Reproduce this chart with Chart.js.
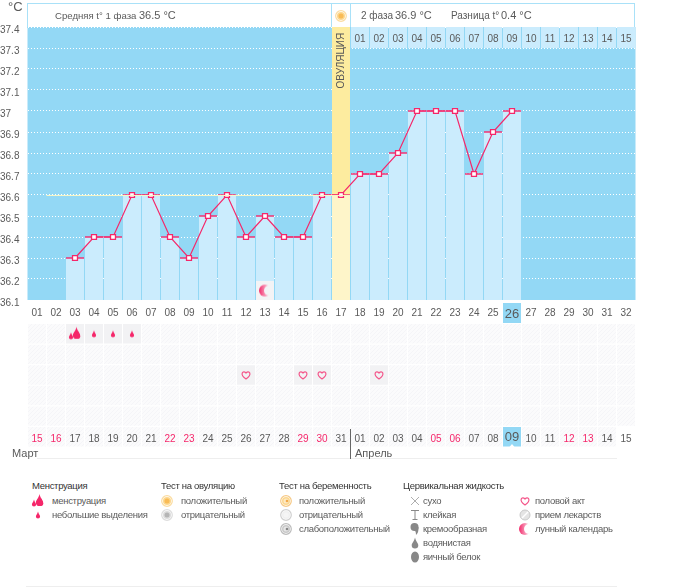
<!DOCTYPE html>
<html>
<head>
<meta charset="utf-8">
<style>
  html, body { margin: 0; padding: 0; background: #fff; }
  #page { position: relative; width: 673px; height: 587px; overflow: hidden; font-family: "Liberation Sans", sans-serif; font-size: 10px; color: #5a5a5a; }
  #page canvas { position: absolute; }
  .txt { position: absolute; white-space: nowrap; line-height: 14px; }
  .box { position: absolute; box-sizing: border-box; }
  .leg { font-size: 9.5px; letter-spacing: -0.3px; }
</style>
<script src="https://cdn.jsdelivr.net/npm/chart.js@4"></script>
</head>
<body>
<div id="page">
  <div class="box" style="left:27px;top:3px;width:608px;height:25px;border:1px solid #a9e1f8;border-bottom:0"></div>
  <div class="box" style="left:331px;top:3px;width:20px;height:25px;border-left:1px solid #a9e1f8;border-right:1px solid #a9e1f8"></div>
  <canvas id="tempChart" width="673" height="323" style="left:0;top:0"></canvas>
  <canvas id="marksChart" width="673" height="130" style="left:0;top:320px"></canvas>
  <div class="box" style="left:37px;top:458px;width:580px;height:1px;background:#eee"></div>
  <div class="box" style="left:350px;top:429px;width:1px;height:30px;background:#666"></div>
  <div class="box" style="left:26px;top:586px;width:591px;height:1px;background:#eee"></div>
</div>
<script>
const dayLabels = ['01','02','03','04','05','06','07','08','09','10','11','12','13','14','15','16','17','18','19','20','21','22','23','24','25','26','27','28','29','30','31','32'];
const dateLabels = ['15','16','17','18','19','20','21','22','23','24','25','26','27','28','29','30','31','01','02','03','04','05','06','07','08','09','10','11','12','13','14','15'];
const weekendIndexes = [0,1,7,8,14,15,21,22,28,29];
const phaseDates = [null,null,null,null,null,null,null,null,null,null,null,null,null,null,null,null,null,'01','02','03','04','05','06','07','08','09','10','11','12','13','14','15'];
const tempTicks = ['36.1','36.2','36.3','36.4','36.5','36.6','36.7','36.8','36.9','37','37.1','37.2','37.3','37.4'];
const temperatures = [null,null,36.3,36.4,36.4,36.6,36.6,36.4,36.3,36.5,36.6,36.4,36.5,36.4,36.4,36.6,36.6,36.7,36.7,36.8,37,37,37,36.7,36.9,37,null,null,null,null,null,null];
const coverTemp = 36.6;
const todayIndex = 25;
const ovulationIndex = 16;
const moonIndex = 12;
const phase2Start = 17;
const heavyDays = [2];
const lightDays = [3,4,5];
const loveDays = [11,14,15,18];

const PINK = '#f5276a';
const SKY = '#93d8f5';
const PALE = '#cbecfd';
const TEXT = '#5a5a5a';
const FONT = '"Liberation Sans", sans-serif';

function newIcon(size, draw) {
  const c = document.createElement('canvas');
  c.width = size; c.height = size;
  draw(c.getContext('2d'), size / 2);
  return c;
}
function drop(g, x, y, h, color) {
  const w = h * 0.3;
  g.fillStyle = color;
  g.beginPath();
  g.moveTo(x, y - h / 2);
  g.bezierCurveTo(x + w * 0.3, y - h * 0.1, x + w, y, x + w, y + h * 0.2);
  g.arc(x, y + h * 0.2, w, 0, Math.PI);
  g.bezierCurveTo(x - w, y, x - w * 0.3, y - h * 0.1, x, y - h / 2);
  g.fill();
}
function ring(g, m, outer, inner, line) {
  g.fillStyle = '#fff';
  g.strokeStyle = line;
  g.lineWidth = 1.2;
  g.beginPath(); g.arc(m, m, 5.3, 0, 7); g.fill(); g.stroke();
  g.fillStyle = outer;
  g.beginPath(); g.arc(m, m, 4, 0, 7); g.fill();
  g.fillStyle = inner;
  g.beginPath(); g.arc(m, m, 2.5, 0, 7); g.fill();
}
const icons = {
  heavy: newIcon(16, (g, m) => { drop(g, m + 1.5, m - 1, 12, PINK); drop(g, m - 4, m + 2, 7, PINK); drop(g, m + 3, m + 1, 8, PINK); }),
  light: newIcon(16, (g, m) => drop(g, m, m, 7, PINK)),
  heart: newIcon(16, (g, m) => {
    g.strokeStyle = '#f4568a'; g.lineWidth = 1.2;
    g.beginPath();
    g.moveTo(m, m + 4);
    g.bezierCurveTo(m - 7, m - 1, m - 3, m - 5, m, m - 2);
    g.bezierCurveTo(m + 3, m - 5, m + 7, m - 1, m, m + 4);
    g.stroke();
  }),
  moon: newIcon(16, (g, m) => {
    const grad = g.createLinearGradient(m - 6, 0, m + 3, 0);
    grad.addColorStop(0, '#f22c6c'); grad.addColorStop(1, '#fbc4d6');
    g.fillStyle = grad;
    g.beginPath(); g.arc(m, m, 6, 0, 7); g.fill();
    g.globalCompositeOperation = 'destination-out';
    g.beginPath(); g.arc(m + 4, m, 5, 0, 7); g.fill();
  }),
  sun: newIcon(16, (g, m) => ring(g, m, '#fcd78e', '#f9bb55', '#fbdca0')),
  ovuNeg: newIcon(16, (g, m) => ring(g, m, '#dcdcdc', '#b5b5b5', '#dddddd')),
  pregPos: newIcon(16, (g, m) => { ring(g, m, '#fcd78e', '#fde9c4', '#f6c986'); g.fillStyle = '#f2a94a'; g.beginPath(); g.arc(m + 1, m, 1.3, 0, 7); g.fill(); }),
  pregNeg: newIcon(16, (g, m) => ring(g, m, '#f0f0f0', '#f5f5f5', '#d0d0d0')),
  pregWeak: newIcon(16, (g, m) => { ring(g, m, '#c9c9c9', '#e6e6e6', '#bbbbbb'); g.fillStyle = '#888'; g.beginPath(); g.arc(m + 1, m, 1.3, 0, 7); g.fill(); }),
  dry: newIcon(16, (g, m) => { g.strokeStyle = '#999'; g.lineWidth = 0.8; g.beginPath(); g.moveTo(m - 4, m - 4); g.lineTo(m + 4, m + 4); g.moveTo(m + 4, m - 4); g.lineTo(m - 4, m + 4); g.stroke(); }),
  sticky: newIcon(16, (g, m) => { g.strokeStyle = '#888'; g.lineWidth = 1; g.beginPath(); g.moveTo(m - 4, m - 4.5); g.lineTo(m + 4, m - 4.5); g.moveTo(m - 2.5, m + 4.5); g.lineTo(m + 2.5, m + 4.5); g.moveTo(m, m - 4); g.lineTo(m, m + 4); g.stroke(); }),
  creamy: newIcon(16, (g, m) => { g.fillStyle = '#888'; g.beginPath(); g.arc(m - 0.5, m - 2, 4, 0, 7); g.fill(); g.beginPath(); g.moveTo(m + 3.5, m - 2); g.quadraticCurveTo(m + 4, m + 3, m + 1, m + 6); g.quadraticCurveTo(m + 1, m + 1, m - 2, m); g.fill(); }),
  watery: newIcon(16, (g, m) => drop(g, m, m, 11, '#888')),
  egg: newIcon(16, (g, m) => { g.fillStyle = '#888'; g.beginPath(); g.ellipse(m, m, 4, 5.5, 0, 0, 7); g.fill(); }),
  pill: newIcon(16, (g, m) => {
    g.fillStyle = '#e4e4e4'; g.strokeStyle = '#c8c8c8';
    g.beginPath(); g.arc(m, m, 5, 0, 7); g.fill(); g.stroke();
    g.strokeStyle = '#fff'; g.lineWidth = 1.5;
    g.beginPath(); g.moveTo(m - 3, m + 3); g.lineTo(m + 3, m - 3); g.stroke();
  }),
};

function addText(x, y, text, size, color, cls) {
  const d = document.createElement('div');
  d.className = 'txt' + (cls ? ' ' + cls : '');
  d.textContent = text;
  d.style.left = x + 'px';
  d.style.top = (y - 7) + 'px';
  if (size) d.style.fontSize = size + 'px';
  if (color) d.style.color = color;
  document.getElementById('page').appendChild(d);
}
function addIcon(name, cx, cy) {
  const c = newIcon(16, g => g.drawImage(icons[name], 0, 0));
  c.style.left = (cx - 8) + 'px';
  c.style.top = (cy - 8) + 'px';
  document.getElementById('page').appendChild(c);
}

addText(8, 7, '°C', 13);
addText(55, 16, 'Средняя t° 1 фаза', 9.6);
addText(139, 15, '36.5 °C', 11);
addIcon('sun', 341, 16);
addText(361, 16, '2 фаза');
addText(395, 15, '36.9 °C', 11);
addText(451, 16, 'Разница t°');
addText(501, 15, '0.4 °C', 11);
addText(12, 453, 'Март', 11);
addText(355, 453, 'Апрель', 11);

const legendColumns = [
  { x: 32, labelX: 52, iconX: 38, title: 'Менструация', items: [['heavy', 'менструация'], ['light', 'небольшие выделения']] },
  { x: 161, labelX: 181, iconX: 167, title: 'Тест на овуляцию', items: [['sun', 'положительный'], ['ovuNeg', 'отрицательный']] },
  { x: 279, labelX: 299, iconX: 286, title: 'Тест на беременность', items: [['pregPos', 'положительный'], ['pregNeg', 'отрицательный'], ['pregWeak', 'слабоположительный']] },
  { x: 403, labelX: 423, iconX: 415, title: 'Цервикальная жидкость', items: [['dry', 'сухо'], ['sticky', 'клейкая'], ['creamy', 'кремообразная'], ['watery', 'водянистая'], ['egg', 'яичный белок']] },
  { x: 535, labelX: 535, iconX: 525, title: '', items: [['heart', 'половой акт'], ['pill', 'прием лекарств'], ['moon', 'лунный календарь']] },
];
legendColumns.forEach(col => {
  if (col.title) addText(col.x, 486, col.title, null, '#333', 'leg');
  col.items.forEach((item, i) => {
    addIcon(item[0], col.iconX, 501 + i * 14);
    addText(col.labelX, 501 + i * 14, item[1], null, null, 'leg');
  });
});

// only one index filled, the rest stay empty
function onlyAt(index, value) {
  return dayLabels.map((d, i) => (i === index ? value : null));
}

const tempPainter = {
  id: 'tempPainter',
  beforeDraw(chart) {
    const { ctx, chartArea: a, scales: { x } } = chart;
    ctx.save();
    ctx.fillStyle = SKY;
    ctx.fillRect(a.left, a.top, a.width, a.height);
    const tx = x.getPixelForValue(todayIndex);
    ctx.fillRect(tx - 9, a.bottom + 3, 18, 20);
    ctx.restore();
  },
  afterDatasetsDraw(chart) {
    const { ctx, scales: { x, y } } = chart;
    ctx.save();
    // average line, runs from the second cell to the ovulation column
    ctx.strokeStyle = '#f6f6c8';
    ctx.lineWidth = 1;
    const ly = Math.round(y.getPixelForValue(coverTemp)) + 0.5;
    ctx.beginPath();
    ctx.moveTo(x.getPixelForValue(0) + 9.5, ly);
    ctx.lineTo(x.getPixelForValue(ovulationIndex) + 9, ly);
    ctx.stroke();
    ctx.fillStyle = TEXT;
    ctx.font = '10px ' + FONT;
    ctx.textAlign = 'center';
    ctx.textBaseline = 'middle';
    phaseDates.forEach((label, i) => {
      if (label) ctx.fillText(label, x.getPixelForValue(i), y.getPixelForValue(37.35) + 2);
    });
    ctx.translate(x.getPixelForValue(ovulationIndex), y.getPixelForValue(37.24));
    ctx.rotate(-Math.PI / 2);
    ctx.fillText('ОВУЛЯЦИЯ', 0, 0);
    ctx.restore();
  },
};

const barDefaults = { type: 'bar', barPercentage: 18 / 19, categoryPercentage: 1, grouped: false };

new Chart(document.getElementById('tempChart').getContext('2d'), {
  type: 'bar',
  data: {
    labels: dayLabels,
    datasets: [
      { type: 'line', data: onlyAt(moonIndex, 36.145), showLine: false, pointStyle: icons.moon, order: 1 },
      { type: 'line', data: temperatures, borderColor: PINK, borderWidth: 1.2, tension: 0, pointStyle: 'rect', pointRadius: 3.5, pointBorderWidth: 1.3, pointBorderColor: PINK, pointBackgroundColor: '#fff', order: 2 },
      { type: 'line', data: temperatures, showLine: false, pointStyle: 'line', pointRadius: 9, pointBorderWidth: 1.4, pointBorderColor: PINK, order: 3 },
      { ...barDefaults, data: temperatures.map(t => (t === null ? null : [36.1, t])), backgroundColor: PALE, order: 6 },
      { ...barDefaults, data: onlyAt(moonIndex, [36.1, 36.19]), backgroundColor: '#f3f3f5', order: 5 },
      { ...barDefaults, data: onlyAt(ovulationIndex, [36.1, 36.6]), backgroundColor: '#fef5c9', order: 4 },
      { ...barDefaults, data: onlyAt(ovulationIndex, [36.6, 37.4]), backgroundColor: '#fdec9f', order: 4 },
      { ...barDefaults, data: dayLabels.map((d, i) => (i >= phase2Start ? [37.3, 37.4] : null)), backgroundColor: PALE, order: 7 },
    ],
  },
  options: {
    responsive: false,
    animation: false,
    events: [],
    layout: { autoPadding: false, padding: { top: 27, right: 37.5, bottom: 0, left: 0 } },
    plugins: { legend: { display: false }, tooltip: { enabled: false } },
    scales: {
      x: {
        afterFit: s => { s.height = 23; },
        grid: { display: false, drawTicks: false },
        border: { display: false },
        ticks: {
          autoSkip: false, maxRotation: 0, padding: 7,
          color: TEXT,
          font: c => ({ family: FONT, size: c.index === todayIndex ? 13 : 10 }),
        },
      },
      y: {
        min: 36.1, max: 37.4,
        afterFit: s => { s.width = 27.5; },
        afterBuildTicks: s => { s.ticks = tempTicks.map(t => ({ value: Number(t) })); },
        grid: { color: '#fff', drawTicks: false, lineWidth: 1 },
        border: { display: false, dash: [1, 2] },
        ticks: {
          autoSkip: false, crossAlign: 'far', padding: 5, labelOffset: 3,
          color: TEXT, font: { family: FONT, size: 10 },
          callback: (v, i) => tempTicks[i],
        },
      },
    },
  },
  plugins: [tempPainter],
});

// six rows under the chart: marks in the first five, dates in the last
const rowIndexes = [0,1,2,3,4,5];
const menstruationRow = 0;
const loveRow = 2;
const activeCells = { 0: heavyDays.concat(lightDays), 2: loveDays };

const hatchCanvas = newIcon(4, g => {
  g.fillStyle = '#fbfbfc'; g.fillRect(0, 0, 4, 4);
  g.fillStyle = '#f5f5f8';
  for (let i = 0; i < 4; i++) g.fillRect(i, 3 - i, 1, 1);
});
const marksCtx = document.getElementById('marksChart').getContext('2d');
const hatch = marksCtx.createPattern(hatchCanvas, 'repeat');

function cellColors(row) {
  return dayLabels.map((d, i) => {
    if (row === 5 && i === todayIndex) return SKY;
    if (row === 5 && i === 31) return 'rgba(0,0,0,0)';
    if (activeCells[row] && activeCells[row].includes(i)) return '#f2f2f4';
    return hatch;
  });
}
function marksAt(indexes, row) {
  return dayLabels.map((d, i) => (indexes.includes(i) ? row + 0.5 : null));
}

// small white notch under today's date
const todayNotch = {
  id: 'todayNotch',
  afterDatasetsDraw(chart) {
    const { ctx, chartArea: a, scales: { x } } = chart;
    const tx = x.getPixelForValue(todayIndex);
    ctx.save();
    ctx.fillStyle = '#fff';
    ctx.beginPath();
    ctx.moveTo(tx - 2.5, a.bottom);
    ctx.lineTo(tx + 2.5, a.bottom);
    ctx.lineTo(tx, a.bottom - 3);
    ctx.fill();
    ctx.restore();
  },
};

new Chart(marksCtx, {
  type: 'bar',
  data: {
    labels: dateLabels,
    datasets: [
      { type: 'line', data: marksAt(heavyDays, menstruationRow), showLine: false, pointStyle: icons.heavy, order: 1 },
      { type: 'line', data: marksAt(lightDays, menstruationRow), showLine: false, pointStyle: icons.light, order: 1 },
      { type: 'line', data: marksAt(loveDays, loveRow), showLine: false, pointStyle: icons.heart, order: 1 },
    ].concat(rowIndexes.map(r => ({
      ...barDefaults,
      data: dayLabels.map(() => [r + 0.03, r + 0.97]),
      backgroundColor: cellColors(r),
      order: 2,
    }))),
  },
  options: {
    responsive: false,
    animation: false,
    events: [],
    layout: { autoPadding: false, padding: { top: 3.5, right: 37.5, bottom: 3, left: 27.5 } },
    plugins: { legend: { display: false }, tooltip: { enabled: false } },
    scales: {
      x: {
        afterFit: s => { s.height = 0; },
        grid: { display: false, drawTicks: false },
        border: { display: false },
        ticks: {
          autoSkip: false, maxRotation: 0, mirror: true, padding: 2, z: 1,
          color: c => (weekendIndexes.includes(c.index) ? PINK : TEXT),
          font: c => ({ family: FONT, size: c.index === todayIndex ? 13 : 10 }),
        },
      },
      y: { display: false, reverse: true, min: 0, max: 6 },
    },
  },
  plugins: [todayNotch],
});
</script>
</body>
</html>
